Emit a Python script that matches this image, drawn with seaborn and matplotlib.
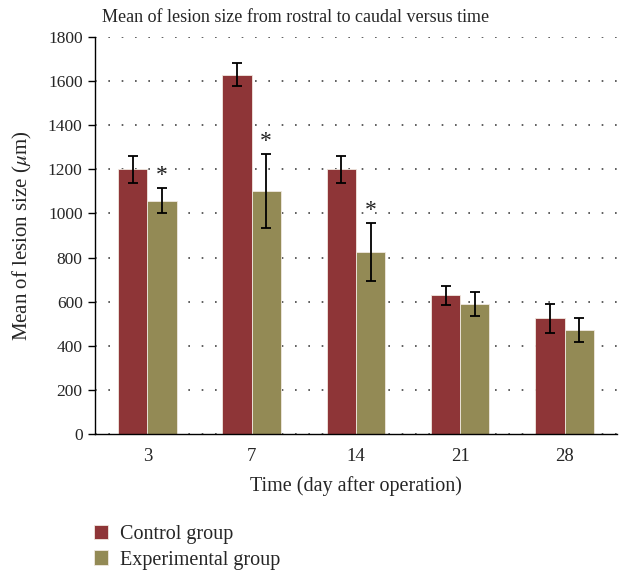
import numpy as np
import pandas as pd
import matplotlib
matplotlib.use("Agg")
import matplotlib.pyplot as plt
import seaborn as sns

# Data
days = ["3", "7", "14", "21", "28"]
control_mean = [1200, 1630, 1200, 630, 524]
control_err = [63, 52, 60, 43, 65]
exper_mean = [1058, 1102, 825, 588, 472]
exper_err = [58, 168, 133, 55, 55]
significant = [True, True, True, False, False]

groups = ["Control group", "Experimental group"]
colors = ["#8e3537", "#938a55"]

df = pd.DataFrame({
    "day": days * 2,
    "size": control_mean + exper_mean,
    "err": control_err + exper_err,
    "group": [groups[0]] * len(days) + [groups[1]] * len(days),
})

sns.set_style("white")
plt.rcParams["font.family"] = ["Liberation Serif", "DejaVu Serif"]
plt.rcParams["mathtext.fontset"] = "stix"

fig = plt.figure(figsize=(6.3, 5.71), dpi=100)
ax = fig.add_axes([0.151, 0.240, 0.828, 0.695])

sns.barplot(data=df, x="day", y="size", hue="group", order=days,
            hue_order=groups, palette=colors, width=0.56, errorbar=None,
            edgecolor="#f0e8e0", linewidth=0.6, saturation=1, ax=ax)

# error bars and asterisks placed on the drawn bars
for gi, g in enumerate(groups):
    sub = df[df["group"] == g].set_index("day").loc[days]
    patches = ax.containers[gi].patches
    xs = [p.get_x() + p.get_width() / 2 for p in patches]
    ax.errorbar(xs, sub["size"], yerr=sub["err"], fmt="none", ecolor="black",
                elinewidth=1.3, capsize=3.5, capthick=1.3, zorder=5)
    if gi == 1:
        for x, m, e, s in zip(xs, sub["size"], sub["err"], significant):
            if s:
                ax.text(x, m + e + 55, "*", ha="center", va="center",
                        fontsize=17, color="#222222")

ax.set_ylim(0, 1800)
ax.set_xlim(-0.5, 4.5)
ax.set_yticks(np.arange(0, 1801, 200))
ax.yaxis.grid(True, linestyle=(0, (1, 7)), color="#444444", linewidth=1.2)
ax.set_axisbelow(True)

for side in ["top", "right"]:
    ax.spines[side].set_visible(False)
ax.spines["left"].set_color("black")
ax.spines["bottom"].set_color("black")
ax.spines["left"].set_linewidth(1)
ax.spines["bottom"].set_linewidth(1)

ax.tick_params(axis="y", direction="out", length=5, width=1, color="black",
               labelsize=12.5, left=True, pad=4)
ax.tick_params(axis="x", length=0, labelsize=13.5, pad=10)

ax.set_xlabel("Time (day after operation)", fontsize=14.5, labelpad=8)
ax.set_ylabel("Mean of lesion size ($\\mu$m)", fontsize=15, labelpad=10)
ax.set_title("Mean of lesion size from rostral to caudal versus time",
             fontsize=13, pad=11, x=0.385)

leg = ax.legend(loc="upper left", bbox_to_anchor=(-0.018, -0.21), frameon=False,
                fontsize=14.5, handlelength=0.7, handleheight=0.7,
                handletextpad=0.6, labelspacing=0.3, borderaxespad=0)

fig.savefig("out.png", dpi=100)
